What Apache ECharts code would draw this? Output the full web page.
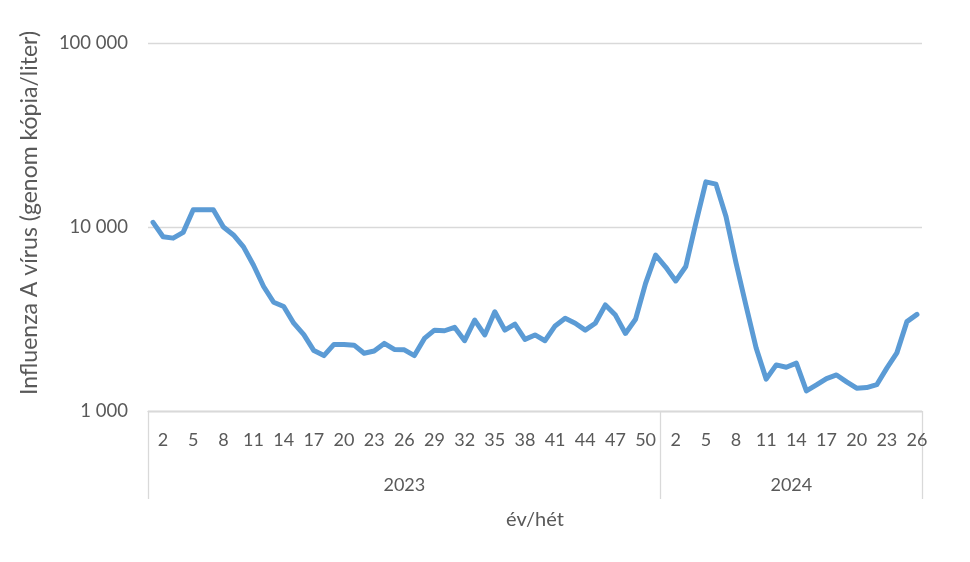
<!DOCTYPE html>
<html>
<head>
<meta charset="utf-8">
<script src="https://cdn.jsdelivr.net/npm/echarts@6/dist/echarts.min.js"></script>
<style>
  html, body { margin: 0; padding: 0; background: #ffffff; }
  #chart { width: 970px; height: 562px; }
</style>
</head>
<body>
<div id="chart"></div>
<script>
// ---- data ----
const years = ['2023', '2024'];
const weeks2023 = ['1','2','3','4','5','6','7','8','9','10','11','12','13','14','15','16','17','18','19','20',
  '21','22','23','24','25','26','27','28','29','30','31','32','33','34','35','36','37','38','39','40',
  '41','42','43','44','45','46','47','48','49','50','51'];
const weeks2024 = ['1','2','3','4','5','6','7','8','9','10','11','12','13','14','15','16','17','18','19','20',
  '21','22','23','24','25','26'];
const values2023 = [10600, 8850, 8700, 9350, 12400, 12400, 12400, 10000, 9050, 7800,
  6200, 4750, 3900, 3700, 3000, 2600, 2130, 2000, 2300, 2300,
  2280, 2060, 2120, 2330, 2160, 2150, 2000, 2480, 2750, 2730,
  2850, 2410, 3120, 2590, 3460, 2750, 2970, 2450, 2590, 2410,
  2900, 3190, 3000, 2750, 3000, 3770, 3320, 2640, 3150, 4940, 7040];
const values2024 = [6060, 5090, 6100, 10500, 17600, 17100, 11400, 6370, 3720, 2200,
  1490, 1780, 1730, 1820, 1285, 1385, 1500, 1570, 1440, 1330,
  1340, 1390, 1710, 2070, 3060, 3350];
const yTicks = [1000, 10000, 100000];
const yTitle = 'Influenza A vírus (genom kópia/liter)';
const xTitle = 'év/hét';

// ---- build ----
const categories = weeks2023.concat(weeks2024);
const values = values2023.concat(values2024);
const groupSizes = [weeks2023.length, weeks2024.length];
const boundaries = [0, groupSizes[0], groupSizes[0] + groupSizes[1]];
const yearCenters = [groupSizes[0] / 2, groupSizes[0] + groupSizes[1] / 2];

const FONT = 'Lato, "Open Sans", sans-serif';
const TXT = '#595959';
const GRID = '#d9d9d9';

function fmt(v) {
  return String(Math.round(v)).replace(/\B(?=(\d{3})+(?!\d))/g, ' ');
}

const chart = echarts.init(document.getElementById('chart'), null, { renderer: 'canvas' });
chart.setOption({
  animation: false,
  backgroundColor: '#ffffff',
  grid: { left: 148, right: 48, top: 43, bottom: 151, containLabel: false },
  xAxis: [
    {
      type: 'category',
      data: categories,
      boundaryGap: true,
      position: 'bottom',
      axisLine: { show: true, lineStyle: { color: GRID, width: 1.3 } },
      axisTick: { show: false },
      axisLabel: {
        interval: function (i) { return i % 3 === 1; },
        color: TXT, fontFamily: FONT, fontSize: 18, margin: 20
      },
      splitLine: { show: false },
      name: xTitle,
      nameLocation: 'middle',
      nameGap: 99,
      nameTextStyle: { color: TXT, fontFamily: FONT, fontSize: 20 }
    },
    {
      type: 'value',
      min: 0,
      max: boundaries[2],
      position: 'bottom',
      offset: 0,
      axisLine: { show: false },
      axisTick: { show: true, customValues: boundaries, length: 88, lineStyle: { color: GRID, width: 1.3 } },
      axisLabel: {
        customValues: yearCenters,
        formatter: function (v) { return years[yearCenters.indexOf(v)] || ''; },
        color: TXT, fontFamily: FONT, fontSize: 18, margin: 65
      },
      splitLine: { show: false }
    }
  ],
  yAxis: {
    type: 'log',
    logBase: 10,
    min: yTicks[0],
    max: yTicks[yTicks.length - 1],
    axisLine: { show: false },
    axisTick: { show: false },
    axisLabel: { formatter: fmt, color: TXT, fontFamily: FONT, fontSize: 18.5, margin: 20 },
    splitLine: { show: true, lineStyle: { color: GRID, width: 1.3 } },
    minorSplitLine: { show: false },
    name: yTitle,
    nameLocation: 'middle',
    nameRotate: 90,
    nameGap: 107,
    nameTextStyle: { color: TXT, fontFamily: FONT, fontSize: 23, padding: [0, 0, 0, 28] }
  },
  series: [{
    type: 'line',
    xAxisIndex: 0,
    data: values,
    showSymbol: false,
    symbol: 'none',
    smooth: false,
    lineStyle: { color: '#5b9bd5', width: 5, cap: 'round', join: 'round' },
    itemStyle: { color: '#5b9bd5' }
  }]
});
</script>
</body>
</html>
